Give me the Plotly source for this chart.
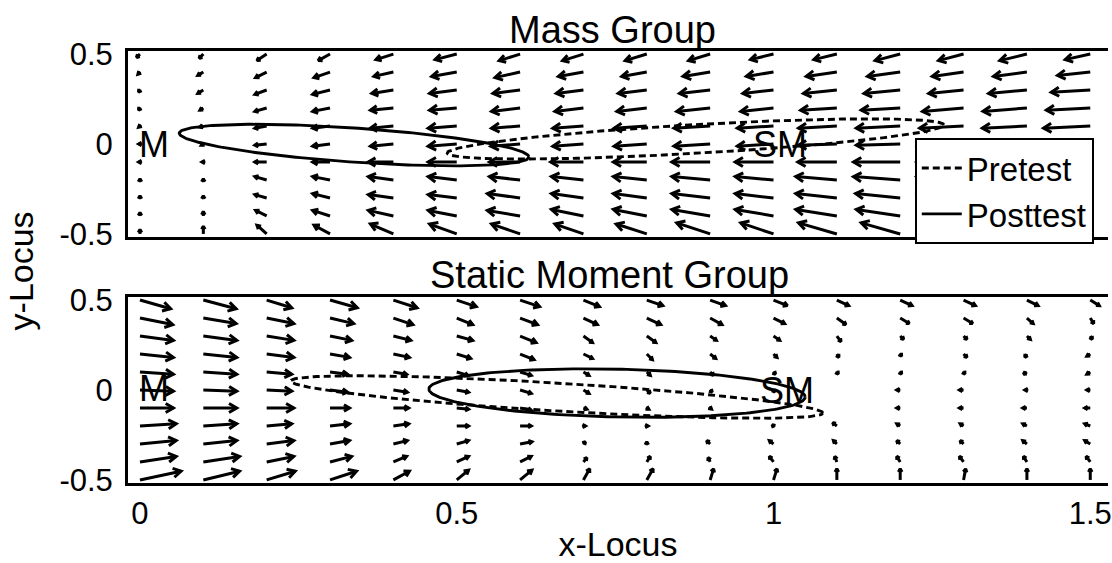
import math
import plotly.graph_objects as go

# ---------------- data ----------------
x_grid = [0.0, 0.1, 0.2, 0.3, 0.4, 0.5, 0.6, 0.7, 0.8, 0.9, 1.0, 1.1, 1.2, 1.3, 1.4, 1.5]
y_grid = [0.5, 0.4, 0.3, 0.2, 0.1, 0.0, -0.1, -0.2, -0.3, -0.4, -0.5]

# Mass group vector field (rows follow y_grid, columns follow x_grid)
mass_u = [
    [-0.005, -0.006, -0.014, -0.017, -0.025, -0.031, -0.030, -0.030, -0.031, -0.031, -0.033, -0.033, -0.036, -0.036, -0.039, -0.036],
    [-0.003, -0.008, -0.016, -0.023, -0.028, -0.036, -0.036, -0.036, -0.036, -0.039, -0.039, -0.044, -0.047, -0.045, -0.048, -0.047],
    [-0.002, -0.008, -0.017, -0.025, -0.031, -0.039, -0.039, -0.039, -0.041, -0.044, -0.044, -0.048, -0.052, -0.050, -0.055, -0.056],
    [-0.002, -0.005, -0.017, -0.025, -0.033, -0.039, -0.041, -0.041, -0.043, -0.048, -0.047, -0.052, -0.056, -0.059, -0.063, -0.063],
    [-0.002, -0.005, -0.017, -0.025, -0.033, -0.041, -0.041, -0.044, -0.047, -0.052, -0.052, -0.055, -0.063, -0.063, -0.064, -0.067],
    [-0.002, -0.003, -0.017, -0.025, -0.033, -0.041, -0.042, -0.044, -0.047, -0.052, -0.052, -0.055, -0.063, -0.066, -0.067, -0.069],
    [-0.002, -0.002, -0.017, -0.025, -0.036, -0.041, -0.044, -0.047, -0.048, -0.055, -0.055, -0.056, -0.067, -0.067, -0.069, -0.070],
    [0.0, 0.0, -0.017, -0.025, -0.036, -0.041, -0.044, -0.046, -0.048, -0.055, -0.055, -0.059, -0.067, -0.067, -0.069, -0.070],
    [0.0, 0.0, -0.017, -0.025, -0.036, -0.041, -0.047, -0.046, -0.048, -0.055, -0.055, -0.059, -0.064, -0.066, -0.067, -0.069],
    [0.0, 0.0, -0.016, -0.025, -0.036, -0.041, -0.047, -0.046, -0.048, -0.055, -0.055, -0.059, -0.063, -0.064, -0.066, -0.067],
    [0.0, 0.0, -0.014, -0.023, -0.033, -0.039, -0.041, -0.041, -0.044, -0.048, -0.047, -0.055, -0.056, -0.059, -0.059, -0.061],
]
mass_v = [
    [-0.017, -0.022, -0.033, -0.033, -0.028, -0.028, -0.033, -0.033, -0.033, -0.033, -0.028, -0.028, -0.033, -0.033, -0.033, -0.028],
    [-0.011, -0.017, -0.028, -0.028, -0.022, -0.022, -0.028, -0.022, -0.022, -0.022, -0.022, -0.022, -0.022, -0.022, -0.022, -0.017],
    [-0.011, -0.017, -0.022, -0.022, -0.017, -0.017, -0.017, -0.017, -0.017, -0.017, -0.017, -0.017, -0.017, -0.017, -0.017, -0.011],
    [-0.011, -0.011, -0.017, -0.017, -0.011, -0.011, -0.017, -0.017, -0.017, -0.017, -0.017, -0.011, -0.011, -0.017, -0.017, -0.011],
    [-0.006, -0.006, -0.011, -0.011, -0.011, -0.011, -0.011, -0.011, -0.011, -0.011, -0.011, -0.011, -0.011, -0.011, -0.011, -0.011],
    [0.0, -0.006, -0.006, -0.011, -0.011, -0.011, -0.011, -0.011, -0.011, -0.011, -0.011, -0.006, -0.006, -0.011, -0.011, -0.006],
    [0.0, 0.0, 0.0, 0.0, 0.0, 0.0, 0.0, 0.0, 0.0, 0.0, 0.0, 0.0, 0.0, 0.0, 0.0, 0.0],
    [0.006, 0.006, 0.017, 0.017, 0.017, 0.017, 0.017, 0.017, 0.017, 0.017, 0.017, 0.017, 0.017, 0.017, 0.017, 0.017],
    [0.011, 0.011, 0.017, 0.022, 0.017, 0.017, 0.022, 0.022, 0.022, 0.022, 0.022, 0.022, 0.022, 0.022, 0.022, 0.022],
    [0.017, 0.022, 0.028, 0.028, 0.028, 0.028, 0.028, 0.033, 0.033, 0.033, 0.033, 0.033, 0.033, 0.033, 0.033, 0.033],
    [0.022, 0.039, 0.044, 0.044, 0.050, 0.050, 0.050, 0.050, 0.050, 0.056, 0.056, 0.056, 0.056, 0.056, 0.056, 0.056],
]

# Static moment group vector field
sm_u = [
    [0.044, 0.047, 0.036, 0.039, 0.034, 0.028, 0.028, 0.023, 0.023, 0.022, 0.020, 0.017, 0.017, 0.017, 0.016, 0.013],
    [0.047, 0.047, 0.039, 0.034, 0.028, 0.023, 0.025, 0.020, 0.020, 0.017, 0.016, 0.013, 0.013, 0.013, 0.009, 0.005],
    [0.048, 0.048, 0.039, 0.031, 0.025, 0.023, 0.023, 0.013, 0.013, 0.009, 0.009, 0.006, 0.005, 0.005, 0.005, 0.003],
    [0.048, 0.048, 0.039, 0.028, 0.023, 0.020, 0.020, 0.013, 0.008, 0.008, 0.005, 0.003, 0.002, 0.005, -0.003, -0.005],
    [0.048, 0.048, 0.036, 0.025, 0.019, 0.016, 0.016, 0.008, 0.005, 0.005, 0.003, 0.002, 0.002, 0.002, -0.005, -0.005],
    [0.048, 0.048, 0.036, 0.025, 0.020, 0.017, 0.016, 0.008, 0.005, 0.003, 0.002, 0.0, -0.005, -0.006, -0.003, -0.005],
    [0.048, 0.048, 0.039, 0.028, 0.022, 0.017, 0.016, 0.005, 0.003, 0.002, 0.0, 0.0, -0.005, -0.006, -0.006, -0.008],
    [0.052, 0.048, 0.036, 0.028, 0.022, 0.017, 0.016, 0.003, 0.002, 0.0, -0.002, -0.006, -0.005, -0.005, -0.006, -0.008],
    [0.052, 0.048, 0.039, 0.028, 0.020, 0.017, 0.017, 0.003, 0.0, -0.005, -0.006, -0.005, -0.005, -0.005, -0.006, -0.008],
    [0.052, 0.052, 0.039, 0.031, 0.019, 0.017, 0.016, 0.005, 0.005, -0.003, -0.006, -0.003, -0.005, -0.006, -0.005, -0.006],
    [0.059, 0.052, 0.041, 0.038, 0.023, 0.017, 0.017, 0.009, 0.009, 0.005, 0.005, 0.0, 0.0, 0.003, 0.0, 0.0],
]
sm_v = [
    [-0.044, -0.044, -0.039, -0.039, -0.039, -0.033, -0.033, -0.033, -0.028, -0.028, -0.028, -0.028, -0.028, -0.028, -0.028, -0.028],
    [-0.033, -0.028, -0.028, -0.028, -0.033, -0.033, -0.033, -0.033, -0.033, -0.033, -0.028, -0.033, -0.028, -0.028, -0.028, -0.028],
    [-0.022, -0.022, -0.022, -0.022, -0.022, -0.022, -0.033, -0.033, -0.033, -0.022, -0.022, -0.028, -0.017, -0.017, -0.017, -0.017],
    [-0.017, -0.017, -0.017, -0.017, -0.017, -0.022, -0.028, -0.022, -0.028, -0.022, -0.017, -0.017, -0.011, -0.017, -0.017, -0.011],
    [-0.011, -0.011, -0.011, -0.011, -0.011, -0.017, -0.017, -0.017, -0.017, -0.017, -0.011, -0.011, -0.011, -0.011, -0.011, -0.011],
    [-0.006, -0.006, -0.006, -0.011, -0.011, -0.011, -0.017, -0.017, -0.017, -0.011, -0.011, 0.0, 0.0, 0.0, 0.0, 0.0],
    [0.0, 0.0, 0.0, 0.0, 0.0, -0.006, -0.011, -0.006, -0.006, -0.006, 0.0, 0.0, 0.0, 0.0, 0.0, 0.0],
    [0.011, 0.011, 0.011, 0.011, 0.011, 0.0, 0.0, 0.0, 0.0, 0.0, 0.006, 0.017, 0.011, 0.011, 0.011, 0.011],
    [0.017, 0.017, 0.017, 0.017, 0.017, 0.017, 0.011, 0.011, 0.011, 0.017, 0.017, 0.017, 0.017, 0.017, 0.017, 0.017],
    [0.028, 0.028, 0.028, 0.028, 0.028, 0.028, 0.028, 0.022, 0.028, 0.022, 0.028, 0.028, 0.028, 0.028, 0.028, 0.028],
    [0.044, 0.044, 0.044, 0.044, 0.044, 0.050, 0.050, 0.056, 0.056, 0.056, 0.056, 0.056, 0.056, 0.056, 0.056, 0.056],
]

# Locus ellipses: centre, semi-major vector, semi-minor vector (data units)
mass_pre_center, mass_pre_major, mass_pre_minor = [0.877, 0.028], [0.392, 0.078], [0.0, 0.080]
mass_post_center, mass_post_major, mass_post_minor = [0.338, -0.006], [0.276, -0.066], [0.0, 0.095]
sm_pre_center, sm_pre_major, sm_pre_minor = [0.658, -0.039], [0.420, -0.089], [0.0, 0.078]
sm_post_center, sm_post_major, sm_post_minor = [0.753, -0.017], [0.297, -0.022], [0.0, 0.133]

# point labels (text, x, y, horizontal anchor)
mass_labels = [("M", 0.0, 0.0, "left"), ("SM", 1.01, 0.0, "center")]
sm_labels = [("M", 0.0, 0.01, "left"), ("SM", 1.022, 0.0, "center")]

series_names = ["Pretest", "Posttest"]
x_ticks = [0, 0.5, 1, 1.5]
x_ticktext = ["0", "0.5", "1", "1.5"]
y_ticks = [-0.5, 0, 0.5]
y_ticktext = ["-0.5", "0", "0.5"]

# ---------------- layout geometry ----------------
W, H = 1112, 563
ML, MR, MT, MB = 128, 0, 51, 80
GAP = 60
PW = W - ML - MR
PH = H - MT - MB
PANEL_H = (PH - GAP) / 2
XR = [-0.0189, 1.528]
YR = [-0.517, 0.517]
SX = PW / (XR[1] - XR[0])
SY = PANEL_H / (YR[1] - YR[0])
ARROW_SCALE = 1.1

FONT = "Liberation Sans, Arial, Helvetica, sans-serif"


def quiver_path(xs, ys, U, V):
    X, Y = [], []
    ang = math.radians(30)
    for i, y in enumerate(ys):
        for j, x in enumerate(xs):
            u, v = U[i][j] * ARROW_SCALE, V[i][j] * ARROW_SCALE
            px, py = u * SX, v * SY
            L = math.hypot(px, py)
            if L < 0.5:
                continue
            tx, ty = x + u, y + v
            X += [x, tx, None]
            Y += [y, ty, None]
            h = min(max(0.33 * L, 3.5), 9.0)
            dx, dy = px / L, py / L
            pts = []
            for s in (1, -1):
                c, sn = math.cos(ang), math.sin(s * ang)
                rx = -(dx * c - dy * sn)
                ry = -(dx * sn + dy * c)
                pts.append((tx + h * rx / SX, ty + h * ry / SY))
            X += [pts[0][0], tx, pts[1][0], None]
            Y += [pts[0][1], ty, pts[1][1], None]
    return X, Y


def ellipse_path(center, major, minor, n=240):
    X, Y = [], []
    for k in range(n + 1):
        t = 2 * math.pi * k / n
        X.append(center[0] + major[0] * math.cos(t) + minor[0] * math.sin(t))
        Y.append(center[1] + major[1] * math.cos(t) + minor[1] * math.sin(t))
    return X, Y


fig = go.Figure()

for (U, V, xa, ya) in [(mass_u, mass_v, "x", "y"), (sm_u, sm_v, "x2", "y2")]:
    qx, qy = quiver_path(x_grid, y_grid, U, V)
    fig.add_trace(go.Scatter(x=qx, y=qy, mode="lines", xaxis=xa, yaxis=ya,
                             line=dict(color="black", width=3),
                             showlegend=False, hoverinfo="skip"))

DASH = "7px,4px"
ell_specs = [
    (mass_pre_center, mass_pre_major, mass_pre_minor, "x", "y", series_names[0], True, DASH),
    (mass_post_center, mass_post_major, mass_post_minor, "x", "y", series_names[1], True, "solid"),
    (sm_pre_center, sm_pre_major, sm_pre_minor, "x2", "y2", series_names[0], False, DASH),
    (sm_post_center, sm_post_major, sm_post_minor, "x2", "y2", series_names[1], False, "solid"),
]
for c, a, b, xa, ya, name, show, dash in ell_specs:
    ex, ey = ellipse_path(c, a, b)
    fig.add_trace(go.Scatter(x=ex, y=ey, mode="lines", xaxis=xa, yaxis=ya, name=name,
                             legendgroup=name, showlegend=show,
                             line=dict(color="black", width=2.9, dash=dash),
                             hoverinfo="skip"))

annotations = []
for labels, xr, yr in [(mass_labels, "x", "y"), (sm_labels, "x2", "y2")]:
    for txt, lx, ly, anchor in labels:
        annotations.append(dict(text=txt, x=lx, y=ly, xref=xr, yref=yr, xanchor=anchor,
                                yanchor="middle", showarrow=False,
                                xshift=-3 if anchor == "left" else 0,
                                font=dict(family=FONT, size=36, color="black")))


def px_to_paper_x(px):
    return (px - ML) / PW


def px_to_paper_y(py):
    return (H - MB - py) / PH


annotations.append(dict(text="Mass Group", x=px_to_paper_x(614), y=px_to_paper_y(30),
                        xref="paper", yref="paper", xanchor="center", yanchor="middle",
                        showarrow=False, font=dict(family=FONT, size=38, color="black")))
annotations.append(dict(text="Static Moment Group", x=px_to_paper_x(611), y=px_to_paper_y(275),
                        xref="paper", yref="paper", xanchor="center", yanchor="middle",
                        showarrow=False, font=dict(family=FONT, size=38, color="black")))
annotations.append(dict(text="y-Locus", x=px_to_paper_x(21), y=px_to_paper_y(271),
                        xref="paper", yref="paper", xanchor="center", yanchor="middle",
                        textangle=-90, showarrow=False,
                        font=dict(family=FONT, size=34, color="black")))

top_dom = [(PANEL_H + GAP) / PH, 1.0]
bot_dom = [0.0, PANEL_H / PH]

axis_common = dict(showgrid=False, zeroline=False, showline=True, linecolor="black",
                   linewidth=3, ticks="", tickfont=dict(family=FONT, size=31, color="black"))

fig.update_layout(
    width=W, height=H,
    margin=dict(l=ML, r=MR, t=MT, b=MB, pad=0),
    paper_bgcolor="white", plot_bgcolor="white",
    font=dict(family=FONT, color="black"),
    showlegend=True,
    legend=dict(x=px_to_paper_x(918), y=px_to_paper_y(138), xanchor="left", yanchor="top",
                bgcolor="white", bordercolor="black", borderwidth=2, itemwidth=40,
                font=dict(family=FONT, size=33, color="black"), tracegroupgap=0),
    xaxis=dict(domain=[0, 1], range=XR, anchor="y", mirror=True, showticklabels=False,
               tickvals=x_ticks, **axis_common),
    yaxis=dict(domain=top_dom, range=YR, anchor="x", mirror=False, tickvals=y_ticks,
               ticktext=y_ticktext, ticklabelstandoff=6, **axis_common),
    xaxis2=dict(domain=[0, 1], range=XR, anchor="y2", mirror=True, tickvals=x_ticks,
                ticktext=x_ticktext, ticklabelstandoff=1, ticklabeloverflow="allow",
                title=dict(text="x-Locus", font=dict(family=FONT, size=34, color="black"), standoff=6),
                **axis_common),
    yaxis2=dict(domain=bot_dom, range=YR, anchor="x2", mirror=False, tickvals=y_ticks,
                ticktext=y_ticktext, ticklabelstandoff=6, **axis_common),
    annotations=annotations,
    hovermode=False,
)

fig.write_html("out.html", config={"displayModeBar": False},
               post_script="document.body.style.margin='0';document.body.style.padding='0';")
